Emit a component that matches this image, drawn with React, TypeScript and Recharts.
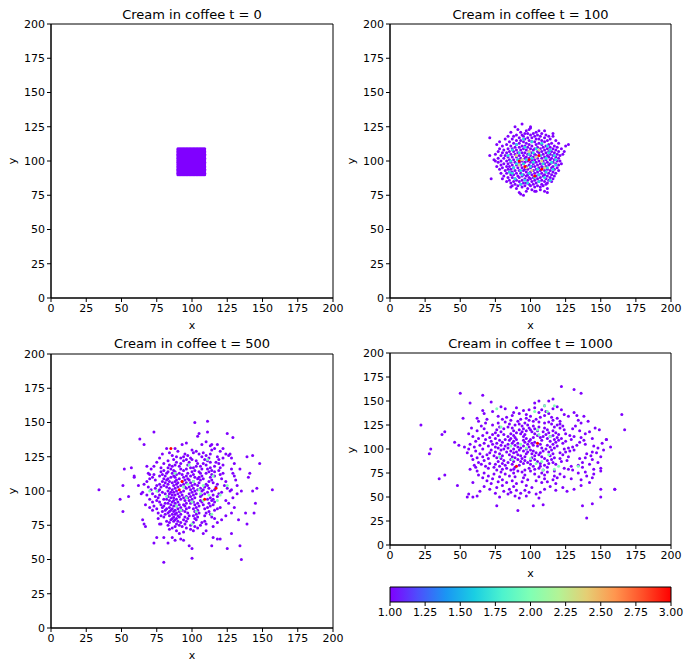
import React from 'react';
import { ScatterChart, Scatter, XAxis, YAxis, ReferenceArea } from 'recharts';

type Row = [number, number[]];
type Pt = [number, number];

const AXIS_TICKS = [0, 25, 50, 75, 100, 125, 150, 175, 200];
const CBAR_TICKS = [1, 1.25, 1.5, 1.75, 2, 2.25, 2.5, 2.75, 3];
const CBAR_RANGE: Pt[] = [[1, 0], [3, 1]];
const TITLES = ['Cream in coffee t = 0', 'Cream in coffee t = 100', 'Cream in coffee t = 500', 'Cream in coffee t = 1000'];

// t = 0 : the initial square of cream
const T0_XS = [90, 91, 92, 93, 94, 95, 96, 97, 98, 99, 100, 101, 102, 103, 104, 105, 106, 107, 108, 109];
const T0_YS = [90, 91, 92, 93, 94, 95, 96, 97, 98, 99, 100, 101, 102, 103, 104, 105, 106, 107, 108, 109];

// t = 100 (rows: [y, xs])
const T100_V1: Row[] = [
  [127, [94]], [125, [89, 100]], [124, [100]], [123, [91, 99]], [122, [97, 106, 110]], [121, [86, 93, 104]],
  [120, [96, 98, 102, 108, 116]], [119, [90, 94, 100, 105, 111]], [118, [84, 88, 95, 103, 107, 113, 116]],
  [117, [71, 92, 98, 101, 110]], [116, [82, 87, 96, 104, 106, 114]], [115, [90, 93, 99, 108, 112, 118]],
  [114, [78, 85, 95, 101, 103, 110]], [113, [88, 92, 97, 106, 115, 120]], [112, [76, 83, 90, 99, 104, 108, 113, 127]],
  [111, [80, 86, 94, 96, 101, 111, 117, 125]], [110, [89, 92, 98, 105, 109, 114, 119]],
  [109, [78, 84, 87, 95, 100, 103, 107, 112, 116, 122]], [108, [81, 90, 93, 97, 102, 110, 118]],
  [107, [77, 85, 88, 99, 105, 108, 113, 115, 120, 124]], [106, [80, 83, 91, 94, 96, 101, 106, 111, 117]],
  [105, [75, 86, 89, 98, 103, 109, 114, 119, 123]], [104, [71, 79, 82, 92, 95, 100, 104, 107, 112, 116, 121]],
  [103, [84, 87, 90, 97, 102, 110, 113, 118]], [102, [77, 81, 93, 96, 99, 105, 108, 115, 120]],
  [101, [74, 85, 88, 91, 101, 103, 111, 114, 117]], [100, [75, 79, 83, 94, 98, 106, 109, 119, 121]],
  [99, [77, 86, 89, 92, 96, 100, 104, 112, 116]], [98, [81, 84, 95, 102, 107, 110, 114, 118, 122]],
  [97, [79, 87, 90, 93, 99, 105, 113, 120]], [96, [76, 83, 85, 97, 101, 103, 108, 111, 116]],
  [95, [80, 88, 91, 94, 100, 106, 109, 115, 119]], [94, [78, 84, 86, 96, 98, 104, 112, 117]],
  [93, [82, 89, 92, 95, 102, 107, 110, 114, 120]], [92, [85, 87, 97, 100, 105, 111, 116]],
  [91, [79, 83, 90, 93, 99, 103, 108, 113, 118]], [90, [86, 88, 95, 98, 101, 106, 110, 115]],
  [89, [81, 91, 94, 97, 104, 109, 112, 117]], [88, [84, 87, 92, 99, 102, 107, 114]],
  [87, [72, 80, 89, 96, 100, 105, 111, 116]], [86, [85, 90, 94, 98, 103, 108, 113]],
  [85, [83, 88, 92, 101, 106, 110, 115]], [84, [86, 95, 97, 104, 112]], [83, [89, 93, 99, 102, 108, 111]],
  [82, [87, 91, 96, 100, 105, 109]], [81, [86, 94, 103, 107]], [80, [90, 98, 112]], [79, [101, 107]],
  [78, [97, 103, 104, 110]], [77, [92, 112]], [76, [93]], [75, [95]],
];
const T100_V2: Pt[] = [
  [90, 112], [95, 116], [101, 114], [108, 113], [112, 111], [87, 108], [96, 110], [104, 109], [114, 108], [117, 104],
  [84, 104], [92, 106], [99, 105], [107, 104], [111, 102], [86, 100], [90, 98], [97, 101], [102, 99], [109, 98],
  [115, 99], [118, 97], [88, 95], [93, 93], [100, 96], [105, 94], [112, 95], [116, 94], [85, 92], [94, 90],
  [99, 91], [106, 90], [111, 92], [89, 87], [96, 86], [103, 88], [110, 88], [93, 83], [98, 84], [106, 85],
  [114, 86], [91, 101], [102, 106], [113, 106], [87, 91], [118, 101], [101, 102], [95, 98],
];
const T100_V3: Pt[] = [[94, 101], [99, 107], [104, 103], [97, 95], [108, 100], [92, 97], [101, 93], [106, 108], [90, 104], [110, 95]];
const T100_V4: Pt[] = [[92, 100], [106, 104], [103, 89], [108, 94], [96, 96], [99, 101]];

// t = 500
const T500_V1_ROWS: Row[] = [
  [131, [88, 116]], [130, [100, 114]], [129, [90, 103, 120]], [128, [84, 101, 108]], [127, [79, 95, 105, 113, 124]],
  [126, [86, 97, 110, 126]], [125, [89, 94, 107, 118]], [124, [77, 92, 99, 112, 122]], [123, [87, 96, 100, 109, 119]],
  [122, [83, 94, 103, 111]], [121, [75, 89, 98, 113, 117]], [120, [80, 92, 104, 108, 119]], [119, [84, 88, 97, 110, 122]],
  [118, [73, 86, 91, 103, 106, 116]], [117, [78, 83, 99, 101, 113, 120]], [116, [71, 85, 92, 96, 107, 111, 128]],
  [115, [80, 87, 94, 102, 114, 119]], [114, [78, 83, 88, 100, 105, 112, 116]], [113, [69, 82, 86, 91, 97, 106, 110, 122]],
  [112, [73, 79, 89, 93, 101, 114, 120]], [111, [77, 81, 87, 96, 99, 107, 116, 130]], [110, [72, 85, 88, 94, 102, 105, 113]],
  [109, [70, 80, 83, 91, 97, 104, 108, 121]], [108, [74, 82, 89, 95, 98, 106, 114]], [107, [68, 79, 84, 88, 93, 101, 112, 124]],
  [106, [81, 86, 90, 96, 99, 105, 115]], [105, [66, 77, 83, 89, 94, 102, 110, 118]], [104, [75, 80, 87, 92, 100, 104, 111, 123]],
  [103, [69, 78, 82, 90, 95, 98, 109, 117]], [102, [74, 84, 88, 96, 101, 106, 112, 125]], [101, [71, 77, 86, 99, 104, 108, 116, 128]],
  [100, [76, 83, 89, 94, 102, 107, 114, 127]], [99, [65, 79, 85, 87, 92, 100, 111, 121]], [98, [72, 81, 84, 90, 98, 103, 109, 119]],
  [97, [68, 77, 86, 88, 93, 101, 107, 115]], [96, [74, 83, 91, 96, 99, 106, 118]], [95, [76, 85, 87, 94, 97, 102, 113, 129]],
  [94, [70, 80, 82, 89, 92, 100, 111, 115]], [93, [75, 84, 87, 95, 98, 106, 114, 124]], [92, [72, 77, 86, 90, 101, 107, 116]],
  [91, [81, 83, 88, 96, 99, 104, 112, 126]], [90, [67, 78, 85, 91, 94, 102, 108, 115]], [89, [73, 80, 87, 89, 95, 105, 113]],
  [88, [70, 79, 84, 92, 98, 103, 111, 120]], [87, [75, 82, 86, 90, 96, 101, 109, 118]], [86, [72, 81, 85, 88, 93, 104, 116]],
  [85, [79, 84, 87, 91, 95, 102, 112]], [84, [76, 83, 89, 97, 105, 110, 128]], [83, [81, 86, 88, 92, 103, 113]],
  [82, [78, 84, 90, 98, 101, 109, 124]], [81, [80, 87, 91, 95, 104, 114]], [80, [76, 86, 89, 97, 102, 116]],
  [79, [85, 88, 94, 103, 121]], [78, [82, 87, 90, 96, 109]], [77, [84, 92, 101, 107, 118]], [76, [78, 89, 95, 110]],
  [75, [83, 91, 99, 106]], [74, [88, 93, 102, 115]], [73, [86, 96, 104]], [72, [84, 99]], [71, [89, 101, 110]],
  [70, [94]], [69, [91, 108]],
];
const T500_V1_OUTER: Pt[] = [
  [34, 101], [49, 94], [51, 104], [51, 85], [52, 116], [57, 117], [55, 96], [59, 111], [59, 110], [62, 104],
  [63, 138], [66, 134], [64, 98], [65, 79], [66, 76], [67, 74], [68, 118], [70, 112], [73, 143], [73, 62],
  [75, 66], [77, 76], [80, 48], [80, 66], [82, 131], [83, 62], [86, 66], [88, 64], [92, 65], [94, 64],
  [98, 60], [100, 58], [100, 51], [102, 150], [104, 140], [105, 142], [111, 151], [111, 143], [114, 60], [115, 66],
  [118, 65], [120, 65], [125, 58], [125, 142], [129, 139], [128, 69], [130, 88], [132, 98], [133, 79], [134, 60],
  [135, 50], [138, 84], [139, 76], [139, 125], [140, 110], [141, 113], [143, 126], [144, 84], [143, 100], [148, 120],
  [157, 101], [146, 102], [145, 91], [135, 100], [131, 108], [132, 104], [130, 120], [129, 113], [134, 116], [128, 124],
  [127, 127], [122, 131], [118, 134], [114, 134], [113, 133], [110, 136], [107, 134], [96, 135], [93, 134],
];
const T500_V2: Pt[] = [
  [98, 119], [88, 113], [111, 123], [101, 107], [94, 103], [97, 105], [105, 101], [112, 97], [120, 97], [100, 92],
  [96, 95], [108, 93], [118, 93], [75, 100], [70, 100], [82, 96], [89, 89], [103, 85], [114, 83], [92, 86],
  [125, 104], [115, 111], [106, 98], [100, 76], [108, 104],
];
const T500_V3: Pt[] = [[85, 131], [93, 107], [91, 101], [117, 102], [109, 94]];

// t = 1000
const T1000_V1_ROWS: Row[] = [
  [152, [116]], [150, [106, 113]], [148, [57, 103]], [145, [110]], [144, [79, 119]], [143, [90, 103]], [142, [82, 116]],
  [141, [99, 108, 122]], [140, [66, 95]], [139, [73, 111]], [138, [88, 106, 131]], [137, [67, 92, 113]], [136, [97, 124]],
  [135, [87, 110, 133]], [134, [77, 100, 127, 138]], [133, [83, 107, 115]], [132, [52, 62, 97, 119]], [131, [69, 80, 93, 104]],
  [130, [86, 99, 116, 134]], [129, [63, 91, 102, 121, 141]], [128, [82, 106, 113]], [127, [68, 77, 96, 110, 136]],
  [126, [85, 92, 115, 121]], [125, [22, 73, 89, 98, 119]], [124, [65, 94, 102, 123, 132]], [123, [78, 84, 106, 117]],
  [122, [58, 87, 99, 110, 121, 146]], [121, [67, 81, 95, 103, 130]], [120, [76, 92, 100, 112, 124, 149, 167]],
  [119, [62, 88, 97, 105, 116, 135]], [118, [39, 79, 94, 101, 109, 142]], [117, [69, 75, 90, 113, 118]],
  [116, [56, 86, 93, 103, 125, 139]], [115, [37, 73, 81, 96, 111, 120]], [114, [66, 77, 88, 105, 116, 128]],
  [113, [59, 84, 95, 109, 114, 131]], [112, [71, 89, 102, 107, 119, 136]], [111, [63, 75, 86, 97, 112, 122, 144]],
  [110, [68, 82, 90, 100, 117, 129, 154]], [109, [78, 85, 95, 108, 120, 138]], [108, [61, 72, 88, 99, 114, 125]],
  [107, [46, 80, 96, 103, 118, 135]], [106, [67, 76, 87, 91, 101, 123, 151]], [105, [57, 73, 84, 98, 107, 116, 139]],
  [104, [49, 64, 79, 89, 102, 112, 133]], [103, [70, 82, 95, 105, 119, 145]], [102, [53, 60, 75, 91, 99, 114, 130, 157]],
  [101, [77, 84, 93, 108, 117, 127, 148]], [100, [29, 56, 66, 81, 88, 97, 111, 124]], [99, [72, 79, 92, 100, 115, 131, 152]],
  [98, [61, 86, 95, 102, 109, 128]], [97, [75, 83, 90, 98, 113, 125, 144]], [96, [55, 71, 88, 104, 107, 121, 147]],
  [95, [28, 64, 78, 97, 101, 116, 140]], [94, [69, 85, 91, 106, 123]], [93, [58, 74, 80, 93, 103, 114, 143]],
  [92, [66, 87, 96, 108, 127, 150]], [91, [62, 76, 89, 101, 117, 139]], [90, [70, 79, 94, 110, 121, 135]],
  [89, [59, 86, 91, 103, 115, 144]], [88, [67, 81, 96, 100, 112, 126]], [87, [77, 88, 93, 105, 122]],
  [86, [63, 84, 98, 116, 137, 148]], [85, [71, 80, 95, 107, 113]], [84, [65, 75, 87, 100, 118, 142]],
  [83, [60, 82, 92, 110, 134]], [82, [68, 78, 102, 107, 129]], [81, [61, 74, 89, 112, 137]],
  [80, [70, 83, 99, 106, 124, 150]], [79, [57, 80, 88, 103, 127, 145]], [78, [76, 86, 96, 109, 130]],
  [77, [62, 91, 100, 117, 150]], [76, [79, 94, 112, 139]], [75, [67, 88, 108, 134]], [74, [74, 82, 103, 121, 145]],
  [73, [39, 63, 96, 110]], [72, [70, 85, 117, 140]], [71, [78, 89, 106, 124]], [70, [66, 95, 119, 144]],
  [69, [35, 73, 110, 129]], [68, [80, 98, 116, 136]], [67, [69, 87, 104]], [66, [77, 94, 112]], [65, [59, 83, 108, 142]],
  [64, [72, 90, 118]], [62, [48, 80, 97, 136]], [61, [67, 88, 114]], [60, [76, 101, 123]], [58, [71, 85, 110, 131, 150, 160]],
  [57, [90, 96, 118]], [56, [64, 81, 126]], [55, [86, 99, 107]], [54, [75, 93]], [53, [56, 84, 104]], [51, [62, 89, 97]],
  [50, [55, 59, 78, 150]], [49, [92, 106]], [43, [144]], [42, [109]], [41, [76, 102, 137]], [36, [91]], [28, [140]],
];
const T1000_V1_OUTER: Pt[] = [
  [66, 156], [50, 158], [72, 149], [122, 165], [131, 162], [136, 158], [165, 136], [154, 110], [160, 58],
];
const T1000_V2: Pt[] = [
  [76, 142], [110, 145], [117, 145], [103, 139], [112, 139], [79, 123], [93, 105], [86, 103], [97, 101], [105, 120],
  [106, 115], [114, 113], [113, 94], [109, 78], [117, 79], [120, 82], [134, 82], [108, 87], [100, 90], [104, 85],
  [87, 89], [78, 92],
];
const T1000_V3: Pt[] = [[105, 106], [90, 82]];

const FONT = '"DejaVu Sans", sans-serif';

function rowsToPts(rows: Row[]): Pt[] {
  return rows.flatMap(([y, xs]) => xs.map((x) => [x, y] as Pt));
}

function rainbow(v: number, vmin: number, vmax: number): string {
  const t = Math.max(0, Math.min(1, (v - vmin) / (vmax - vmin)));
  const r = Math.min(1, Math.abs(2 * t - 0.5));
  const g = Math.sin(Math.PI * t);
  const b = Math.max(0, Math.cos((Math.PI * t) / 2));
  const h = (c: number) => Math.round(c * 255).toString(16).padStart(2, '0');
  return '#' + h(r) + h(g) + h(b);
}

type Layer = { pts: Pt[]; level: number };

const tickStyle = { fontSize: 11, fill: '#000', fontFamily: FONT };

function Panel(props: {
  left: number; top: number; width: number; height: number;
  margin: { top: number; right: number; bottom: number; left: number };
  layers: Layer[]; vmax: number;
}) {
  const { left, top, width, height, margin, layers, vmax } = props;
  return (
    <div style={{ position: 'absolute', left, top }}>
      <ScatterChart width={width} height={height} margin={margin}>
        <XAxis type="number" dataKey="x" domain={[0, 200]} ticks={AXIS_TICKS} interval={0} allowDataOverflow
          tick={tickStyle} tickSize={4} tickMargin={2} height={30}
          axisLine={{ stroke: '#000' }} tickLine={{ stroke: '#000' }} />
        <YAxis type="number" dataKey="y" domain={[0, 200]} ticks={AXIS_TICKS} interval={0} allowDataOverflow
          tick={tickStyle} tickSize={4} tickMargin={2} width={40}
          axisLine={{ stroke: '#000' }} tickLine={{ stroke: '#000' }} />
        {layers.map((layer, i) => {
          const color = rainbow(layer.level, 1, vmax);
          return (
            <Scatter key={i} data={layer.pts.map(([x, y]) => ({ x, y }))} isAnimationActive={false}
              shape={(p: any) => <circle cx={p.cx} cy={p.cy} r={1.5} fill={color} />} />
          );
        })}
        <ReferenceArea x1={0} x2={200} y1={0} y2={200} fill="none" stroke="#000" strokeWidth={1} ifOverflow="visible" />
      </ScatterChart>
    </div>
  );
}

function Label(props: { x: number; y: number; text: string; size?: number; rotate?: boolean }) {
  const { x, y, text, size = 11, rotate } = props;
  return (
    <div style={{
      position: 'absolute', left: x, top: y, transform: `translate(-50%, -50%)${rotate ? ' rotate(-90deg)' : ''}`,
      fontFamily: FONT, fontSize: size, color: '#000', whiteSpace: 'nowrap', lineHeight: 1,
    }}>{text}</div>
  );
}

export default function App() {
  const t0Pts: Pt[] = T0_YS.flatMap((y) => T0_XS.map((x) => [x, y] as Pt));
  const stops = [0, 0.1, 0.2, 0.3, 0.4, 0.5, 0.6, 0.7, 0.8, 0.9, 1];
  return (
    <div style={{ position: 'absolute', left: 0, top: 0, width: 691, height: 668, background: '#fff', overflow: 'hidden' }}>
      <svg width={1} height={1} style={{ position: 'absolute', left: 0, top: 0 }}>
        <defs>
          <linearGradient id="cbarGrad" x1="0" x2="1" y1="0" y2="0">
            {stops.map((s) => <stop key={s} offset={s} stopColor={rainbow(1 + 2 * s, 1, 3)} />)}
          </linearGradient>
        </defs>
      </svg>

      <Panel left={0} top={0} width={345} height={330} margin={{ top: 24, right: 12, bottom: 2, left: 11 }}
        layers={[{ pts: t0Pts, level: 1 }]} vmax={3} />
      <Panel left={345} top={0} width={346} height={330} margin={{ top: 24, right: 20, bottom: 2, left: 5 }}
        layers={[{ pts: rowsToPts(T100_V1), level: 1 }, { pts: T100_V2, level: 2 }, { pts: T100_V3, level: 3 }, { pts: T100_V4, level: 4 }]} vmax={4} />
      <Panel left={0} top={330} width={345} height={338} margin={{ top: 24, right: 12, bottom: 10, left: 11 }}
        layers={[{ pts: [...rowsToPts(T500_V1_ROWS), ...T500_V1_OUTER], level: 1 }, { pts: T500_V2, level: 2 }, { pts: T500_V3, level: 3 }]} vmax={3} />
      <Panel left={345} top={330} width={346} height={250} margin={{ top: 23, right: 20, bottom: 5, left: 5 }}
        layers={[{ pts: [...rowsToPts(T1000_V1_ROWS), ...T1000_V1_OUTER], level: 1 }, { pts: T1000_V2, level: 2 }, { pts: T1000_V3, level: 3 }]} vmax={3} />

      <div style={{ position: 'absolute', left: 345, top: 570 }}>
        <ScatterChart width={346} height={60} margin={{ top: 17, right: 20, bottom: 3, left: 45 }}>
          <XAxis type="number" dataKey="x" domain={[1, 3]} ticks={CBAR_TICKS} interval={0} allowDataOverflow
            tickFormatter={(v: number) => v.toFixed(2)} tick={tickStyle} tickSize={4} tickMargin={2} height={25}
            axisLine={false} tickLine={{ stroke: '#000' }} />
          <YAxis type="number" dataKey="y" domain={[0, 1]} width={0} tick={false} axisLine={false} tickLine={false} allowDataOverflow />
          <Scatter data={CBAR_RANGE.map(([x, y]) => ({ x, y }))} isAnimationActive={false} shape={() => <g />} />
          <ReferenceArea x1={1} x2={3} y1={0} y2={1} fill="url(#cbarGrad)" fillOpacity={1} stroke="#000" strokeWidth={1} ifOverflow="visible" />
        </ScatterChart>
      </div>

      <Label x={192} y={14} text={TITLES[0]} size={13} />
      <Label x={530.5} y={14} text={TITLES[1]} size={13} />
      <Label x={192} y={343} text={TITLES[2]} size={13} />
      <Label x={530.5} y={343} text={TITLES[3]} size={13} />

      <Label x={192} y={325} text="x" />
      <Label x={530.5} y={325} text="x" />
      <Label x={192} y={655} text="x" />
      <Label x={530.5} y={573} text="x" />

      <Label x={12} y={161} text="y" rotate />
      <Label x={351} y={161} text="y" rotate />
      <Label x={12} y={491} text="y" rotate />
      <Label x={351} y={450} text="y" rotate />
    </div>
  );
}
